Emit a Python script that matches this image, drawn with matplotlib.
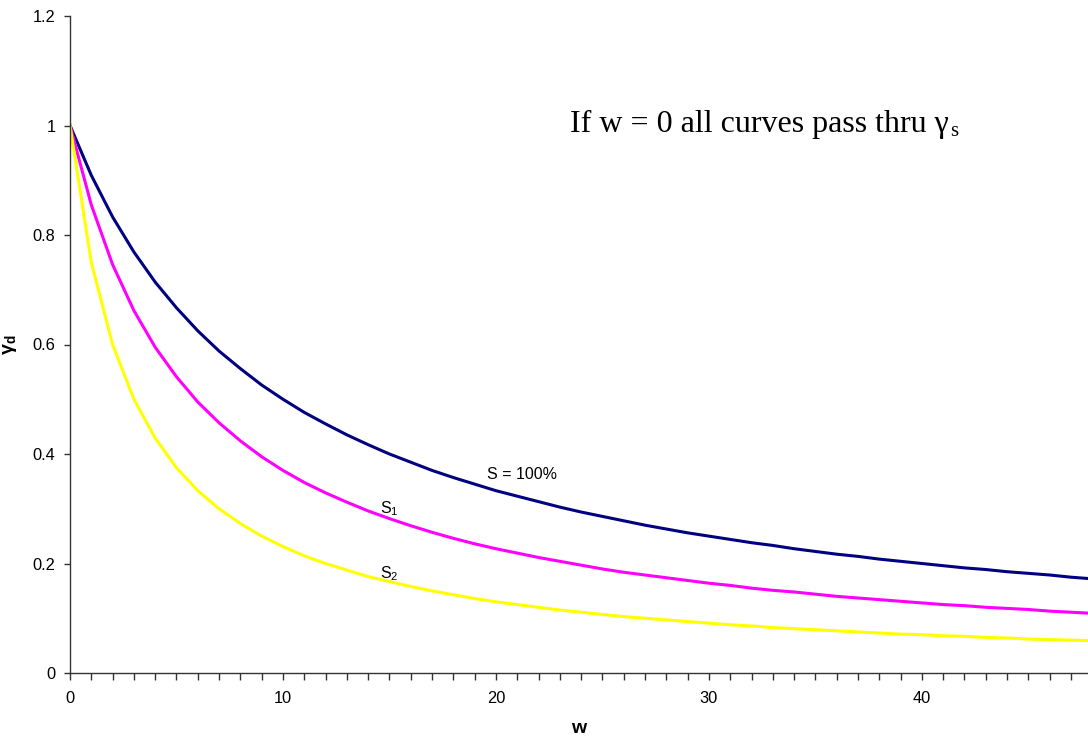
import matplotlib
matplotlib.use("Agg")
import matplotlib.pyplot as plt
from matplotlib.ticker import MultipleLocator

# ---- data ----
w = list(range(49))
gamma_s100 = [1.000, 0.909, 0.833, 0.769, 0.714, 0.667, 0.625, 0.588, 0.556, 0.526,
              0.500, 0.476, 0.455, 0.435, 0.417, 0.400, 0.385, 0.370, 0.357, 0.345,
              0.333, 0.323, 0.313, 0.303, 0.294, 0.286, 0.278, 0.270, 0.263, 0.256,
              0.250, 0.244, 0.238, 0.233, 0.227, 0.222, 0.217, 0.213, 0.208, 0.204,
              0.200, 0.196, 0.192, 0.189, 0.185, 0.182, 0.179, 0.175, 0.172]
gamma_s1 = [1.000, 0.855, 0.746, 0.662, 0.595, 0.541, 0.495, 0.457, 0.424, 0.395,
            0.370, 0.348, 0.329, 0.312, 0.296, 0.282, 0.269, 0.257, 0.246, 0.236,
            0.227, 0.219, 0.211, 0.204, 0.197, 0.190, 0.184, 0.179, 0.174, 0.169,
            0.164, 0.160, 0.155, 0.151, 0.148, 0.144, 0.140, 0.137, 0.134, 0.131,
            0.128, 0.125, 0.123, 0.120, 0.118, 0.116, 0.113, 0.111, 0.109]
gamma_s2 = [1.000, 0.750, 0.600, 0.500, 0.429, 0.375, 0.333, 0.300, 0.273, 0.250,
            0.231, 0.214, 0.200, 0.188, 0.176, 0.167, 0.158, 0.150, 0.143, 0.136,
            0.130, 0.125, 0.120, 0.115, 0.111, 0.107, 0.103, 0.100, 0.097, 0.094,
            0.091, 0.088, 0.086, 0.083, 0.081, 0.079, 0.077, 0.075, 0.073, 0.071,
            0.070, 0.068, 0.067, 0.065, 0.064, 0.062, 0.061, 0.060, 0.059]
x_ticks = [0, 10, 20, 30, 40]
y_ticks = [0, 0.2, 0.4, 0.6, 0.8, 1.0, 1.2]
y_tick_labels = ["0", "0.2", "0.4", "0.6", "0.8", "1", "1.2"]

plt.rcParams['font.family'] = ['Liberation Sans', 'DejaVu Sans']
plt.rcParams['mathtext.fontset'] = 'custom'
plt.rcParams['mathtext.rm'] = 'Liberation Sans'
plt.rcParams['mathtext.it'] = 'Liberation Sans'
plt.rcParams['mathtext.bf'] = 'Liberation Sans:bold'

fig = plt.figure(figsize=(10.88, 7.40), dpi=100)
ax = fig.add_axes([70 / 1088, 67 / 740, 1018 / 1088, 657 / 740])

ax.plot(w, gamma_s100, color='#000080', lw=2.2)
ax.plot(w, gamma_s1, color='#FF00FF', lw=2.2)
ax.plot(w, gamma_s2, color='#FFFF00', lw=2.2)

ax.set_xlim(0, 47.8)
ax.set_ylim(0, 1.2)
ax.set_xticks(x_ticks)
ax.xaxis.set_minor_locator(MultipleLocator(1))
ax.set_yticks(y_ticks)
ax.set_yticklabels(y_tick_labels)

for s in ['top', 'right']:
    ax.spines[s].set_visible(False)
for s in ['left', 'bottom']:
    ax.spines[s].set_color('#333333')
    ax.spines[s].set_linewidth(1.0)

ax.tick_params(axis='x', which='both', direction='out', length=5, width=1,
               color='#333333', labelsize=11.8, pad=8)
ax.tick_params(axis='y', which='major', direction='out', length=4.5, width=1,
               color='#333333', labelsize=11.8, pad=6)

ax.set_xlabel('w', fontsize=14, fontweight='bold', labelpad=10)
ax.set_ylabel(r'$\mathbf{\gamma_d}$', fontsize=14, labelpad=10)

ax.text(19.6, 0.362, 'S = 100%', fontsize=11.5, va='center', ha='left')
ax.text(14.55, 0.300, r'S$_1$', fontsize=11.5, va='center', ha='left')
ax.text(14.55, 0.181, r'S$_2$', fontsize=11.5, va='center', ha='left')

t1 = ax.text(23.5, 0.988, 'If w = 0 all curves pass thru \u03b3',
             fontsize=23, family='Liberation Serif', va='baseline', ha='left')
ax.annotate('s', xy=(1.0, 0.0), xycoords=t1, xytext=(1, 2),
            textcoords='offset points', fontsize=15, family='Liberation Serif',
            va='baseline', ha='left')

fig.savefig('out.png', dpi=100)
